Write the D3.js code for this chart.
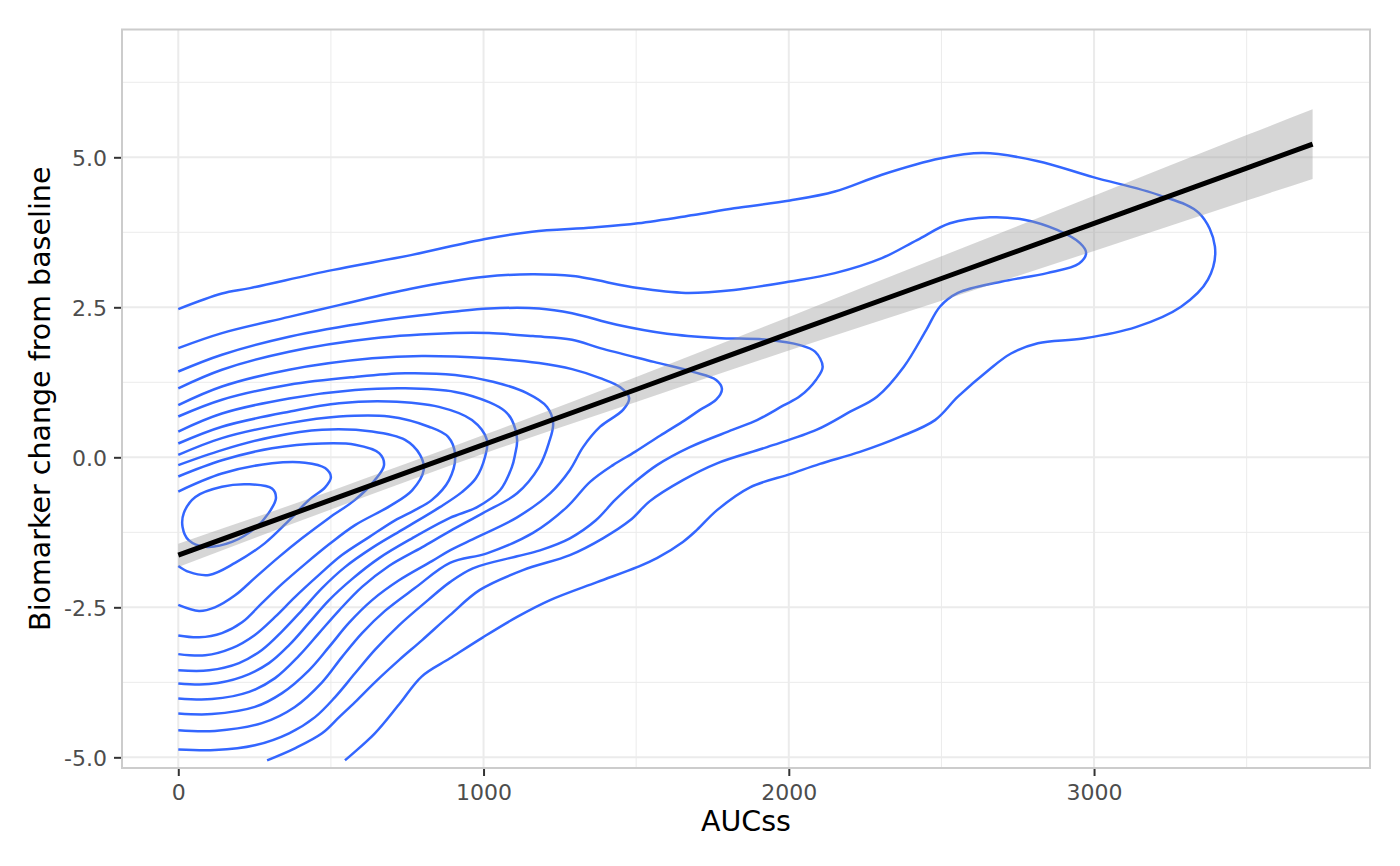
<!DOCTYPE html>
<html>
<head>
<meta charset="utf-8">
<script src="https://cdnjs.cloudflare.com/ajax/libs/d3/7.8.5/d3.min.js"></script>
<style>
  body { margin: 0; background: #ffffff; }
  text { font-family: "DejaVu Sans", sans-serif; }
</style>
</head>
<body>
<div id="chart"></div>
<script>
// tick values and labels
var xMajor = [0, 1000, 2000, 3000];
var xMinor = [500, 1500, 2500, 3500];
var xTickLabels = ["0", "1000", "2000", "3000"];
var yMajor = [-5, -2.5, 0, 2.5, 5];
var yMinor = [-3.75, -1.25, 1.25, 3.75, 6.25];
var yTickLabels = ["-5.0", "-2.5", "0.0", "2.5", "5.0"];

// linear fit and its confidence band
var fitX    = [0, 500, 1000, 1500, 2000, 2500, 3000, 3500, 3716];
var fitY    = [-1.63, -0.71, 0.21, 1.13, 2.06, 2.98, 3.90, 4.82, 5.22];
var bandLow = [-1.83, -0.87, 0.06, 0.92, 1.78, 2.61, 3.44, 4.28, 4.64];
var bandHigh= [-1.44, -0.56, 0.37, 1.34, 2.34, 3.35, 4.36, 5.37, 5.80];

// density contour lines, [AUCss, biomarker change]
var contour01 = [[0,2.47],[143,2.73],[235,2.82],[504,3.12],[762,3.37],[1005,3.64],[1159,3.76],[1359,3.83],[1506,3.90],[1688,4.04],[1821,4.15],[2004,4.28],[2151,4.43],[2305,4.71],[2495,4.98],[2636,5.07],[2813,4.94],[2997,4.67],[3213,4.37],[3344,4.07],[3396,3.51],[3373,2.96],[3285,2.51],[3137,2.17],[2964,1.98],[2816,1.90],[2728,1.73],[2656,1.46],[2554,1.01],[2479,0.62],[2364,0.34],[2233,0.09],[2102,-0.11],[2004,-0.28],[1873,-0.50],[1765,-0.88],[1699,-1.21],[1653,-1.41],[1568,-1.68],[1503,-1.83],[1372,-2.08],[1218,-2.38],[1110,-2.66],[998,-3.00],[890,-3.35],[798,-3.65],[723,-4.12],[644,-4.60],[546,-5.05]];
var contour02 = [[0,1.82],[143,2.07],[363,2.34],[530,2.54],[762,2.81],[1005,3.01],[1159,3.05],[1293,3.02],[1506,2.82],[1662,2.74],[1821,2.79],[2004,2.93],[2151,3.07],[2305,3.32],[2420,3.62],[2528,3.90],[2659,4.00],[2771,3.96],[2879,3.79],[2954,3.57],[2974,3.41],[2951,3.23],[2846,3.07],[2698,2.93],[2554,2.74],[2495,2.51],[2450,2.12],[2377,1.51],[2289,1.01],[2201,0.76],[2092,0.46],[1929,0.17],[1765,-0.10],[1653,-0.38],[1545,-0.73],[1480,-1.05],[1391,-1.35],[1283,-1.63],[1129,-1.88],[988,-2.21],[890,-2.63],[798,-3.05],[723,-3.38],[644,-3.75],[579,-4.08],[527,-4.33],[471,-4.60],[382,-4.85],[291,-5.05]];
var contour03 = [[0,1.43],[143,1.71],[363,2.01],[635,2.26],[907,2.43],[1018,2.48],[1182,2.48],[1290,2.40],[1437,2.21],[1601,2.06],[1765,1.99],[1929,1.96],[2037,1.87],[2086,1.76],[2111,1.51],[2089,1.29],[2037,1.02],[1981,0.86],[1896,0.62],[1817,0.46],[1676,0.17],[1568,-0.13],[1496,-0.41],[1431,-0.71],[1368,-1.05],[1283,-1.35],[1185,-1.55],[1110,-1.65],[965,-1.85],[890,-2.08],[818,-2.38],[723,-2.80],[644,-3.21],[579,-3.60],[513,-4.00],[448,-4.33],[363,-4.60],[251,-4.80],[120,-4.88],[0,-4.87]];
var contour04 = [[0,1.15],[143,1.46],[363,1.76],[635,1.98],[907,2.07],[1018,2.07],[1162,2.02],[1290,1.96],[1382,1.82],[1558,1.59],[1689,1.42],[1762,1.29],[1781,1.14],[1762,0.96],[1709,0.79],[1660,0.62],[1578,0.36],[1496,0.09],[1424,-0.13],[1349,-0.41],[1273,-0.83],[1162,-1.26],[1011,-1.60],[890,-1.76],[775,-2.18],[677,-2.56],[602,-2.93],[536,-3.33],[471,-3.75],[382,-4.16],[274,-4.43],[120,-4.56],[0,-4.55]];
var contour05 = [[0,0.87],[143,1.18],[363,1.46],[635,1.65],[798,1.69],[1018,1.65],[1182,1.57],[1290,1.47],[1382,1.32],[1447,1.17],[1477,0.99],[1457,0.79],[1382,0.51],[1326,0.17],[1283,-0.21],[1218,-0.60],[1110,-1.00],[979,-1.33],[890,-1.55],[831,-1.73],[723,-2.05],[635,-2.38],[559,-2.76],[494,-3.16],[428,-3.55],[340,-3.93],[251,-4.16],[110,-4.28],[0,-4.27]];
var contour06 = [[0,0.68],[143,0.96],[363,1.21],[579,1.34],[743,1.40],[907,1.37],[1031,1.26],[1142,1.07],[1208,0.84],[1228,0.57],[1214,0.24],[1182,-0.16],[1110,-0.60],[998,-0.93],[890,-1.23],[798,-1.50],[690,-1.81],[602,-2.16],[527,-2.55],[461,-2.93],[395,-3.31],[317,-3.68],[232,-3.91],[110,-4.03],[0,-4.02]];
var contour07 = [[0,0.43],[143,0.73],[363,0.98],[579,1.12],[743,1.15],[907,1.09],[1018,0.92],[1070,0.77],[1093,0.62],[1110,0.29],[1103,0.04],[1093,-0.16],[1054,-0.55],[979,-0.83],[890,-1.01],[766,-1.35],[658,-1.68],[569,-2.03],[494,-2.38],[428,-2.76],[363,-3.13],[297,-3.43],[209,-3.66],[101,-3.78],[0,-3.77]];
var contour08 = [[0,0.23],[143,0.51],[363,0.76],[527,0.90],[690,0.93],[854,0.84],[962,0.62],[1011,0.29],[1005,0.01],[975,-0.35],[929,-0.58],[857,-0.83],[743,-1.18],[635,-1.51],[546,-1.83],[471,-2.18],[405,-2.55],[340,-2.90],[274,-3.21],[199,-3.43],[101,-3.55],[0,-3.55]];
var contour09 = [[0,0.04],[143,0.32],[363,0.57],[527,0.68],[690,0.68],[821,0.51],[884,0.34],[907,0.04],[887,-0.38],[831,-0.71],[775,-0.88],[710,-1.05],[625,-1.33],[536,-1.63],[461,-1.96],[382,-2.33],[317,-2.66],[251,-2.96],[176,-3.18],[88,-3.30],[0,-3.28]];
var contour10 = [[0,-0.13],[143,0.12],[307,0.34],[471,0.46],[635,0.43],[743,0.29],[792,0.04],[804,-0.21],[766,-0.55],[694,-0.81],[579,-1.13],[494,-1.45],[415,-1.78],[340,-2.11],[274,-2.43],[209,-2.75],[143,-2.93],[68,-3.00],[0,-2.97]];
var contour11 = [[0,-0.32],[143,-0.05],[307,0.15],[471,0.23],[579,0.21],[658,0.07],[674,-0.13],[644,-0.38],[579,-0.71],[494,-1.01],[405,-1.35],[330,-1.66],[251,-2.01],[186,-2.30],[120,-2.50],[68,-2.56],[0,-2.46]];
var contour12 = [[0,-0.57],[143,-0.27],[307,-0.10],[415,-0.09],[481,-0.18],[500,-0.33],[481,-0.50],[428,-0.71],[363,-1.05],[284,-1.43],[186,-1.76],[101,-1.96],[35,-1.91],[0,-1.81]];
// innermost ring is closed
var contour13 = [[18,-0.93],[56,-0.66],[143,-0.49],[231,-0.45],[307,-0.52],[320,-0.68],[296,-0.93],[252,-1.18],[176,-1.41],[89,-1.49],[34,-1.38],[14,-1.16]];

var openContours = [contour01, contour02, contour03, contour04, contour05, contour06,
                    contour07, contour08, contour09, contour10, contour11, contour12];

function init(){
    var w = 1400;
    var h = 866;
    var left = 122, right = 1370, top = 29.5, bottom = 768;

    var svg = d3.select("#chart")
        .append("svg")
        .attr("width", w)
        .attr("height", h);

    var x = d3.scaleLinear().domain([-184.4, 3904]).range([left, right]);
    var y = d3.scaleLinear().domain([-5.178, 7.13]).range([bottom, top]);

    svg.append("defs").append("clipPath")
        .attr("id", "panel")
        .append("rect")
        .attr("x", left).attr("y", top)
        .attr("width", right - left).attr("height", bottom - top);

    // grid
    var grid = svg.append("g");
    grid.selectAll(".xminor").data(xMinor).enter().append("line")
        .attr("x1", function(d){ return x(d); }).attr("x2", function(d){ return x(d); })
        .attr("y1", top).attr("y2", bottom)
        .attr("stroke", "#ebebeb").attr("stroke-width", 1);
    grid.selectAll(".yminor").data(yMinor).enter().append("line")
        .attr("y1", function(d){ return y(d); }).attr("y2", function(d){ return y(d); })
        .attr("x1", left).attr("x2", right)
        .attr("stroke", "#ebebeb").attr("stroke-width", 1);
    grid.selectAll(".xmajor").data(xMajor).enter().append("line")
        .attr("x1", function(d){ return x(d); }).attr("x2", function(d){ return x(d); })
        .attr("y1", top).attr("y2", bottom)
        .attr("stroke", "#ebebeb").attr("stroke-width", 2);
    grid.selectAll(".ymajor").data(yMajor).enter().append("line")
        .attr("y1", function(d){ return y(d); }).attr("y2", function(d){ return y(d); })
        .attr("x1", left).attr("x2", right)
        .attr("stroke", "#ebebeb").attr("stroke-width", 2);

    var plot = svg.append("g").attr("clip-path", "url(#panel)");

    // contours
    var line = d3.line()
        .x(function(d){ return x(d[0]); })
        .y(function(d){ return y(d[1]); })
        .curve(d3.curveCatmullRom.alpha(0.5));

    plot.selectAll(".contour")
        .data(openContours)
        .enter()
        .append("path")
        .attr("d", line)
        .attr("fill", "none")
        .attr("stroke", "#3366FF")
        .attr("stroke-width", 2.5);

    plot.append("path")
        .datum(contour13)
        .attr("d", d3.line()
            .x(function(d){ return x(d[0]); })
            .y(function(d){ return y(d[1]); })
            .curve(d3.curveCatmullRomClosed.alpha(0.5)))
        .attr("fill", "none")
        .attr("stroke", "#3366FF")
        .attr("stroke-width", 2.5);

    // confidence band + fit
    var fitRows = fitX.map(function(v, i){
        return { x: v, y: fitY[i], lo: bandLow[i], hi: bandHigh[i] };
    });

    plot.append("path")
        .datum(fitRows)
        .attr("d", d3.area()
            .x(function(d){ return x(d.x); })
            .y0(function(d){ return y(d.lo); })
            .y1(function(d){ return y(d.hi); })
            .curve(d3.curveMonotoneX))
        .attr("fill", "#999999")
        .attr("fill-opacity", 0.4);

    plot.append("path")
        .datum(fitRows)
        .attr("d", d3.line()
            .x(function(d){ return x(d.x); })
            .y(function(d){ return y(d.y); }))
        .attr("fill", "none")
        .attr("stroke", "#000000")
        .attr("stroke-width", 5);

    // panel border
    svg.append("rect")
        .attr("x", left).attr("y", top)
        .attr("width", right - left).attr("height", bottom - top)
        .attr("fill", "none")
        .attr("stroke", "#cccccc")
        .attr("stroke-width", 2);

    // axes
    var xAxis = d3.axisBottom(x)
        .tickValues(xMajor)
        .tickSize(7)
        .tickPadding(8)
        .tickFormat(function(d, i){ return xTickLabels[i]; });
    var gx = svg.append("g")
        .attr("transform", "translate(0," + (bottom + 1) + ")")
        .call(xAxis);

    var yAxis = d3.axisLeft(y)
        .tickValues(yMajor)
        .tickSize(7)
        .tickPadding(7)
        .tickFormat(function(d, i){ return yTickLabels[i]; });
    var gy = svg.append("g")
        .attr("transform", "translate(" + (left - 1) + ",0)")
        .call(yAxis);

    [gx, gy].forEach(function(g){
        g.select(".domain").remove();
        g.selectAll(".tick line").attr("stroke", "#333333").attr("stroke-width", 2);
        g.selectAll(".tick text")
            .attr("fill", "#4d4d4d")
            .attr("font-size", "22px")
            .attr("font-family", "DejaVu Sans, sans-serif");
    });
    gy.selectAll(".tick text").attr("dy", "0.36em");

    // titles
    svg.append("text")
        .attr("x", (left + right) / 2)
        .attr("y", 831)
        .attr("text-anchor", "middle")
        .attr("font-size", "28.5px")
        .attr("fill", "#000000")
        .text("AUCss");

    svg.append("text")
        .attr("transform", "translate(50," + ((top + bottom) / 2) + ") rotate(-90)")
        .attr("text-anchor", "middle")
        .attr("font-size", "28.5px")
        .attr("fill", "#000000")
        .text("Biomarker change from baseline");
}
window.onload = init;
</script>
</body>
</html>
